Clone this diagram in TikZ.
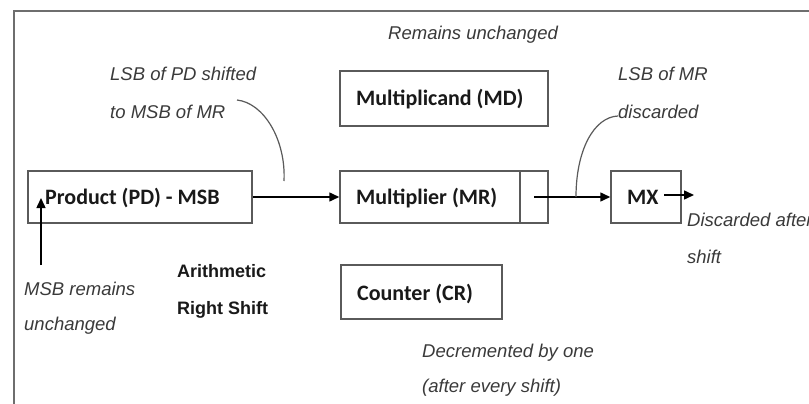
\documentclass[tikz,border=0pt]{standalone}
\usepackage{fontspec}
\setmainfont{Liberation Sans}
\newfontfamily\boxfont{Carlito}
\usetikzlibrary{arrows.meta}
\definecolor{framegray}{HTML}{6E6E6E}
\definecolor{boxgray}{HTML}{5A5A5A}
\definecolor{notegray}{HTML}{3A3A3A}
\tikzset{
  regbox/.style={draw=boxgray, line width=1.5pt, inner sep=0pt, rectangle},
  regtext/.style={anchor=base west, inner sep=0pt, text=black!90,
    font=\boxfont\bfseries\fontsize{22}{26}\selectfont},
  note/.style={anchor=base west, inner sep=0pt, text=notegray,
    font=\itshape\fontsize{18.5}{22}\selectfont},
  optext/.style={anchor=base west, inner sep=0pt, text=black!90,
    font=\bfseries\fontsize{18}{22}\selectfont},
  flow/.style={draw=black, line width=1.5pt,
    -{Triangle[length=10pt,width=9pt]}},
  leader/.style={draw=boxgray, line width=1.2pt},
}
\begin{document}
\begin{tikzpicture}[x=1pt,y=-1pt]
\clip (0,0) rectangle (809,404);
\fill[white] (0,0) rectangle (809,404);
% outer frame (continues past the page edges)
\draw[framegray, line width=2.5pt] (14,420) -- (14,11) -- (830,11);

% registers
\node[regbox, minimum width=224pt, minimum height=52pt] (pd) at (140,197) {};
\node[regbox, minimum width=208pt, minimum height=55pt] (md) at (444,98.5) {};
\node[regbox, minimum width=208pt, minimum height=52pt] (mr) at (444,197) {};
\node[regbox, minimum width=70pt, minimum height=52pt] (mx) at (646,197) {};
\node[regbox, minimum width=161pt, minimum height=54pt] (cr) at (421.5,292) {};
% LSB cell of the multiplier
\draw[boxgray, line width=1.5pt] (mr.north -| 520,0) -- (mr.south -| 520,0);

% register names
\node[regtext] (pdt) at (45,204) {Product (PD) - MSB};
\node[regtext] (mdt) at (356,106) {Multiplicand (MD)};
\node[regtext] (mrt) at (356,204) {Multiplier (MR)};
\node[regtext] (mxt) at (627,204) {MX};
\node[regtext] (crt) at (357,300) {Counter (CR)};

% operation
\node[optext] (op1) at (177,277) {Arithmetic};
\node[optext] (op2) at (177,314) {Right Shift};

% notes
\node[note] (n1) at (388,40) {Remains unchanged};
\node[note] (n2a) at (110,81) {LSB of PD shifted};
\node[note] (n2b) at (110,118) {to MSB of MR};
\node[note] (n3a) at (618,81) {LSB of MR};
\node[note] (n3b) at (618,118) {discarded};
\node[note] (n4a) at (687,226) {Discarded after};
\node[note] (n4b) at (687,263) {shift};
\node[note] (n5a) at (24,295) {MSB remains};
\node[note] (n5b) at (24,330) {unchanged};
\node[note] (n6a) at (422,357) {Decremented by one};
\node[note] (n6b) at (422,392) {(after every shift)};

% data paths
\coordinate (lsb) at (534,197);
\coordinate (mxout) at (664,195);
\coordinate (mxend) at (694,195);
\coordinate (msbfoot) at (41,265);
\coordinate (msbtip) at (41,198);
\draw[flow] (pd.east) -- (mr.west);
\draw[flow] (lsb) -- (mx.west);
\draw[flow] (mxout) -- (mxend);
\draw[flow] (msbfoot) -- (msbtip);

% leader lines from the notes
\coordinate (l1s) at (237,100);
\coordinate (l1e) at (284,181);
\coordinate (l2s) at (618,116);
\coordinate (l2e) at (576,197);
\draw[leader] (l1s) .. controls (264,103) and (286,140) .. (l1e);
\draw[leader] (l2s) .. controls (594,117) and (576,150) .. (l2e);
\end{tikzpicture}
\end{document}
